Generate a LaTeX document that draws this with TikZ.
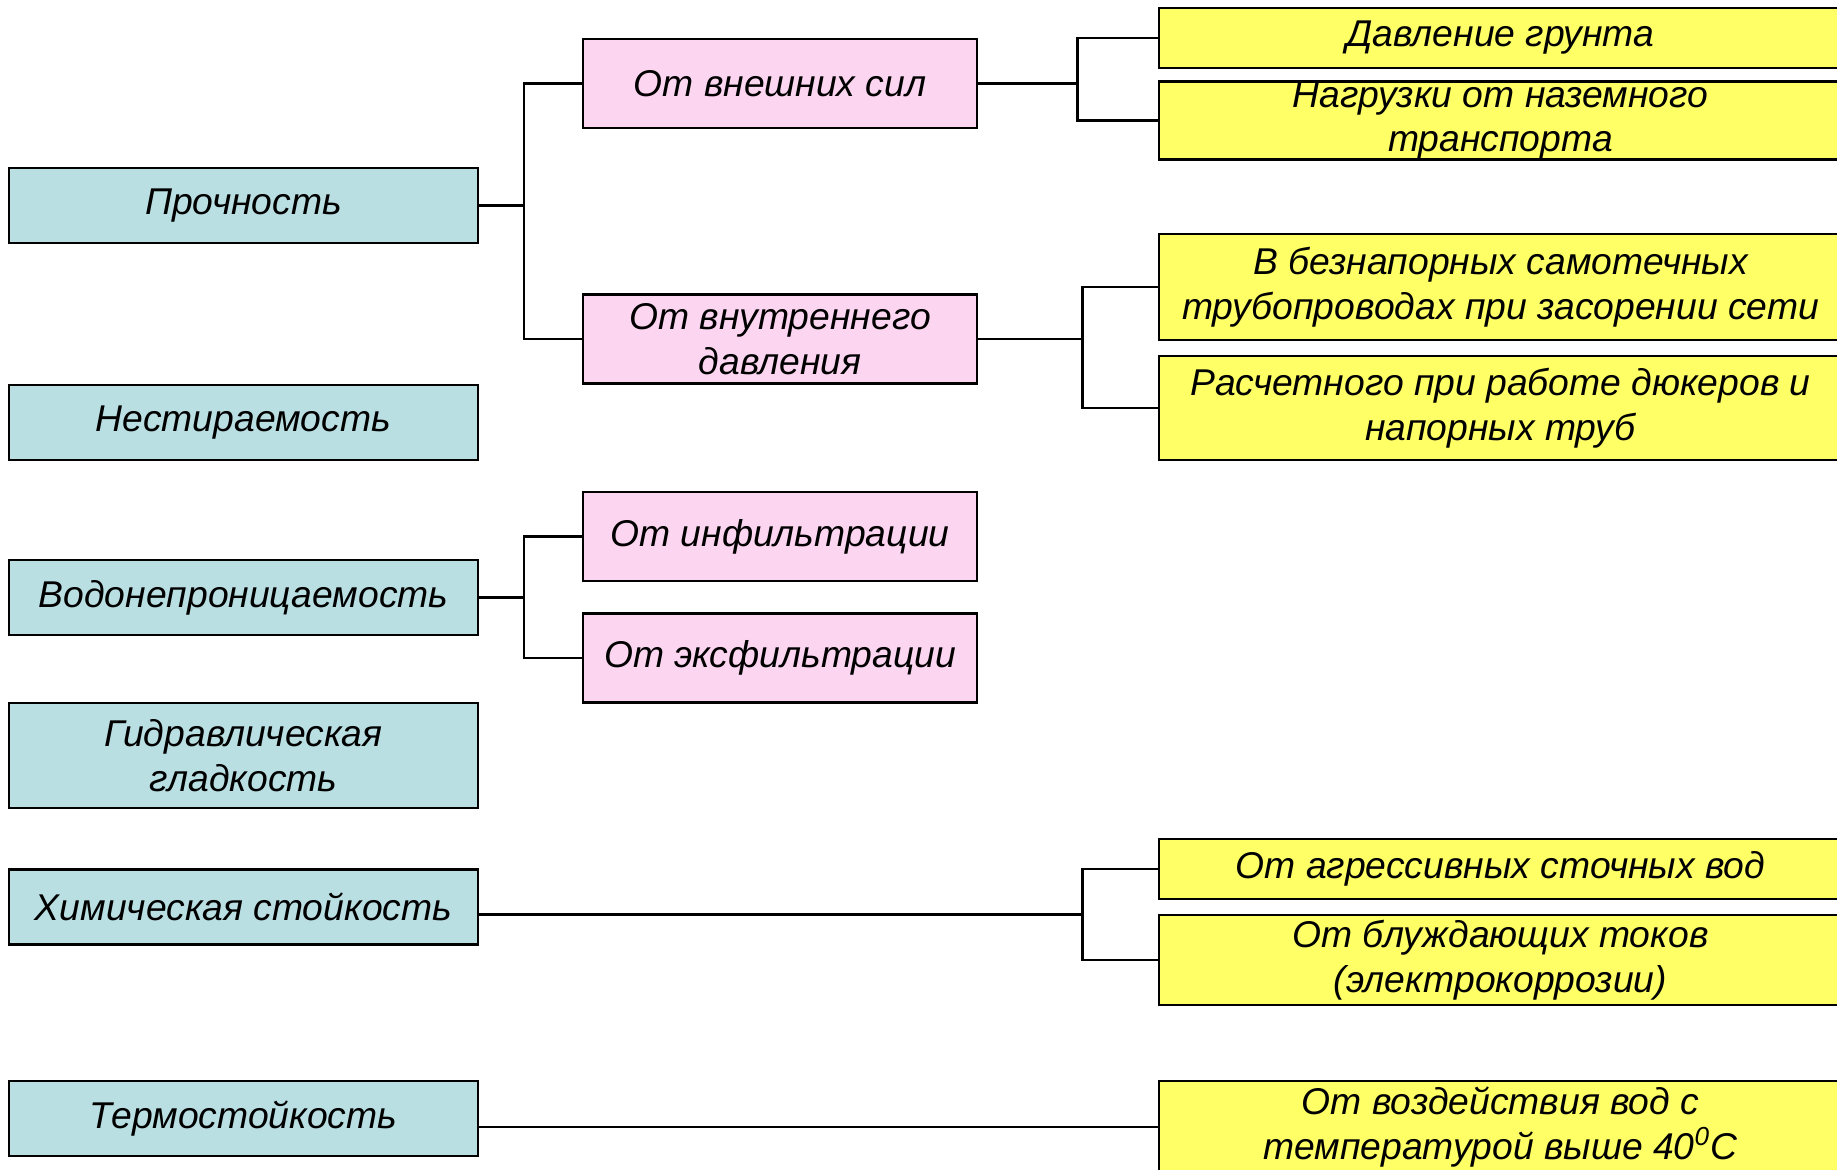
\documentclass[tikz,border=0pt]{standalone}
\usepackage{fontspec}
\setmainfont{Liberation Sans}
\usetikzlibrary{calc}
\definecolor{propfill}{RGB}{185,223,227}
\definecolor{causefill}{RGB}{252,213,240}
\definecolor{detailfill}{RGB}{255,255,102}

\begin{document}
\begin{tikzpicture}[x=0.01cm,y=-0.01cm,
    every node/.style={draw,line width=0.7pt,inner sep=0pt,align=center,
      font=\fontsize{10.6}{12.65}\selectfont\itshape},
    propbox/.style={fill=propfill,minimum width=4.69cm,minimum height=0.75cm},
    causebox/.style={fill=causefill,minimum width=3.94cm,minimum height=0.89cm},
    detailbox/.style={fill=detailfill,minimum width=6.83cm},
    link/.style={line width=0.65pt}]

    % Frame of the page
    \useasboundingbox (0,0) rectangle (1837,1169);
    \clip (0,0) rectangle (1837,1169);

    % Properties
    \node[propbox] (strength) at (243.5,205.5) {Прочность};
    \node[propbox] (abrasion) at (243.5,422.5) {Нестираемость};
    \node[propbox] (watertight) at (243.5,597.5) {Водонепроницаемость};
    \node[propbox,minimum height=1.05cm] (hydraulic) at (243.5,755.5) {Гидравлическая\\гладкость};
    \node[propbox] (chemical) at (243.5,907) {Химическая стойкость};
    \node[propbox] (thermal) at (243.5,1118.5) {Термостойкость};

    % Causes
    \node[causebox] (external) at (780,83.5) {От внешних сил};
    \node[causebox] (internal) at (780,339) {От внутреннего\\давления};
    \node[causebox] (infilt) at (780,536.5) {От инфильтрации};
    \node[causebox] (exfilt) at (780,658) {От эксфильтрации};

    % Details
    \node[detailbox,minimum height=0.60cm] (soil) at (1500.5,38) {Давление грунта};
    \node[detailbox,minimum height=0.75cm] (traffic) at (1500.5,120.5) {Нагрузки от наземного\\транспорта};
    \node[detailbox,minimum height=1.06cm] (gravity) at (1500.5,287) {В безнапорных самотечных\\трубопроводах при засорении сети};
    \node[detailbox,minimum height=1.04cm] (siphon) at (1500.5,408) {Расчетного при работе дюкеров и\\напорных труб};
    \node[detailbox,minimum height=0.60cm] (aggressive) at (1500.5,869) {От агрессивных сточных вод};
    \node[detailbox,minimum height=0.90cm] (stray) at (1500.5,960) {От блуждающих токов\\(электрокоррозии)};
    \node[detailbox,minimum height=0.92cm] (hotwater) at (1500.5,1127) {От воздействия вод с\\температурой выше 40\textsuperscript{0}C};

    % Forks
    \coordinate (forkA) at (524,0);
    \coordinate (forkB) at ($(soil.west)!0.5!(traffic.west) - (80,0)$);
    \coordinate (forkD) at ($(gravity.west)!0.5!(siphon.west) - (75,0)$);
    \coordinate (forkC) at ($(aggressive.west)!0.5!(stray.west) - (75,0)$);

    \draw[link] (strength.east) -- (strength.east -| forkA);
    \draw[link] (external.west) -| (forkA |- internal.west) -- (internal.west);
    \draw[link] (watertight.east) -- (watertight.east -| forkA);
    \draw[link] (infilt.west) -| (forkA |- exfilt.west) -- (exfilt.west);

    \draw[link] (external.east) -- (external.east -| forkB);
    \draw[link] (soil.west) -| (forkB) |- (traffic.west);
    \draw[link] (internal.east) -- (internal.east -| forkD);
    \draw[link] (gravity.west) -| (forkD) |- (siphon.west);

    \draw[link] (chemical.east |- forkC) -- (forkC);
    \draw[link] (aggressive.west) -| (forkC) |- (stray.west);
    \draw[link] (thermal.east |- hotwater.west) -- (hotwater.west);

\end{tikzpicture}
\end{document}
